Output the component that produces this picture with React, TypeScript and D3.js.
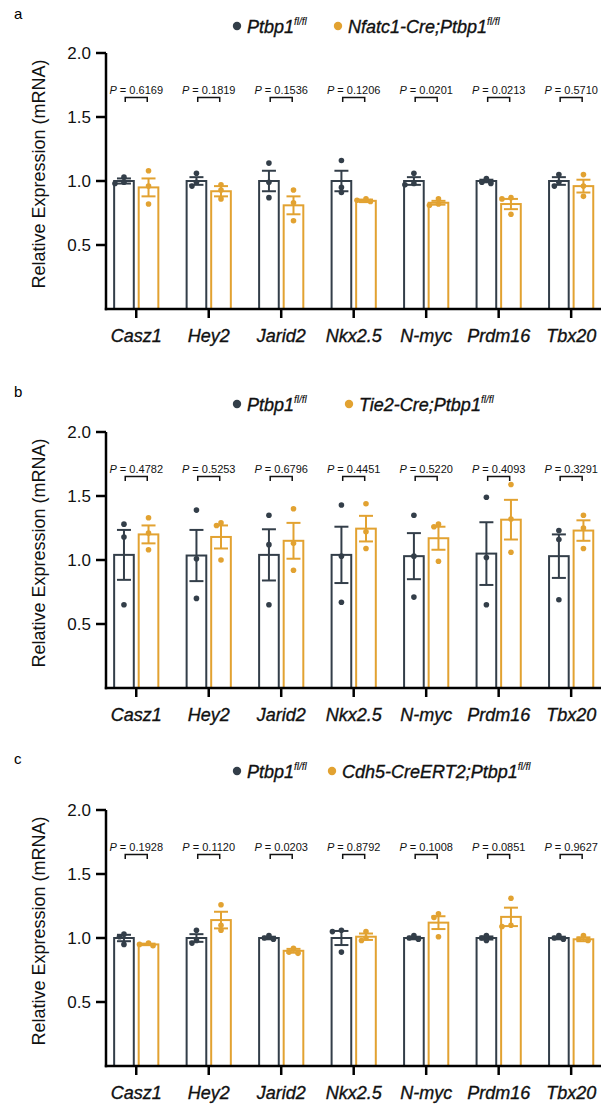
import React from 'react';
import * as d3 from 'd3';

// genes on the x axis
const genes = ['Casz1', 'Hey2', 'Jarid2', 'Nkx2.5', 'N-myc', 'Prdm16', 'Tbx20'];
const yTicks = [0.5, 1.0, 1.5, 2.0];
const controlLabel = 'Ptbp1';

// panel a : Nfatc1-Cre
const aMutant = 'Nfatc1-Cre;Ptbp1';
const aCtrlMean = [1.0, 1.0, 1.0, 1.0, 1.0, 1.0, 1.0];
const aCtrlSem = [0.02, 0.03, 0.08, 0.08, 0.03, 0.01, 0.03];
const aCtrlPts = [[1.03, 0.98, 0.99], [1.06, 0.99, 0.96], [1.14, 0.99, 0.87], [1.16, 0.95, 0.91], [1.06, 0.98, 0.97], [1.02, 0.99, 0.98], [1.05, 0.99, 0.96]];
const aKoMean = [0.95, 0.92, 0.81, 0.845, 0.83, 0.82, 0.96];
const aKoSem = [0.07, 0.04, 0.07, 0.01, 0.015, 0.04, 0.05];
const aKoPts = [[1.08, 0.96, 0.82], [0.97, 0.93, 0.86], [0.93, 0.83, 0.69], [0.86, 0.85, 0.84], [0.86, 0.82, 0.81], [0.87, 0.86, 0.74], [1.05, 0.96, 0.88]];
const aP = ['0.6169', '0.1819', '0.1536', '0.1206', '0.0201', '0.0213', '0.5710'];

// panel b : Tie2-Cre
const bMutant = 'Tie2-Cre;Ptbp1';
const bCtrlMean = [1.04, 1.035, 1.04, 1.04, 1.03, 1.05, 1.03];
const bCtrlSem = [0.195, 0.2, 0.2, 0.22, 0.18, 0.245, 0.17];
const bCtrlPts = [[1.28, 1.18, 0.65], [1.39, 1.01, 0.70], [1.35, 1.12, 0.65], [1.43, 1.03, 0.67], [1.35, 1.03, 0.71], [1.49, 1.02, 0.65], [1.23, 1.16, 0.69]];
const bKoMean = [1.2, 1.18, 1.15, 1.245, 1.17, 1.315, 1.23];
const bKoSem = [0.07, 0.09, 0.14, 0.1, 0.09, 0.155, 0.08];
const bKoPts = [[1.33, 1.21, 1.08], [1.29, 1.27, 1.0], [1.40, 1.13, 0.92], [1.44, 1.22, 1.09], [1.28, 1.26, 0.99], [1.59, 1.32, 1.06], [1.35, 1.25, 1.09]];
const bP = ['0.4782', '0.5253', '0.6796', '0.4451', '0.5220', '0.4093', '0.3291'];

// panel c : Cdh5-CreERT2
const cMutant = 'Cdh5-CreERT2;Ptbp1';
const cCtrlMean = [1.0, 1.0, 1.0, 1.0, 1.0, 1.0, 1.0];
const cCtrlSem = [0.025, 0.03, 0.01, 0.055, 0.01, 0.012, 0.01];
const cCtrlPts = [[1.03, 1.01, 0.95], [1.06, 0.98, 0.96], [1.02, 1.0, 0.99], [1.06, 1.05, 0.89], [1.02, 1.0, 0.99], [1.02, 1.0, 0.98], [1.02, 1.0, 0.99]];
const cKoMean = [0.95, 1.14, 0.9, 1.01, 1.12, 1.165, 0.99];
const cKoSem = [0.006, 0.065, 0.015, 0.025, 0.05, 0.072, 0.015];
const cKoPts = [[0.96, 0.95, 0.94], [1.26, 1.10, 1.06], [0.92, 0.89, 0.88], [1.05, 1.0, 0.98], [1.19, 1.16, 1.01], [1.31, 1.10, 1.09], [1.02, 0.99, 0.98]];
const cP = ['0.1928', '0.1120', '0.0203', '0.8792', '0.1008', '0.0851', '0.9627'];

const DARK = '#333e49';
const GOLD = '#e2a231';
const FONT = '"Liberation Sans", Arial, Helvetica, sans-serif';

const panels = [
  { letter: 'a', mutant: aMutant, ctrlMean: aCtrlMean, ctrlSem: aCtrlSem, ctrlPts: aCtrlPts, koMean: aKoMean, koSem: aKoSem, koPts: aKoPts, p: aP },
  { letter: 'b', mutant: bMutant, ctrlMean: bCtrlMean, ctrlSem: bCtrlSem, ctrlPts: bCtrlPts, koMean: bKoMean, koSem: bKoSem, koPts: bKoPts, p: bP },
  { letter: 'c', mutant: cMutant, ctrlMean: cCtrlMean, ctrlSem: cCtrlSem, ctrlPts: cCtrlPts, koMean: cKoMean, koSem: cKoSem, koPts: cKoPts, p: cP },
];

// layout per panel
const plotTops = [0, 379, 757];
const headTops = [0, 378, 745];
const legendKoX = [338, 349, 332];

// spread overlapping dots sideways, like a scatter column
function swarm(ys: number[], r: number) {
  const placed: { x: number; y: number }[] = [];
  const order = ys.map((v, i) => i).sort((a, b) => ys[a] - ys[b]);
  const out: number[] = new Array(ys.length).fill(0);
  order.forEach(i => {
    const tries = [0, -4.5, 4.5, -9, 9];
    let dx = 0;
    for (const t of tries) {
      if (placed.every(p => Math.hypot(p.x - t, p.y - ys[i]) >= 2 * r - 0.5)) { dx = t; break; }
    }
    placed.push({ x: dx, y: ys[i] });
    out[i] = dx;
  });
  return out;
}

function Panel({ d, i }: { d: any; i: number }) {
  const top = plotTops[i];
  const head = headTops[i];
  const y = d3.scaleLinear().domain([0, 2]).range([top + 309, top + 53]);
  const x = d3.scaleBand().domain(genes).range([100, 607.4]);
  const inner = d3.scaleBand().domain(['ctrl', 'ko']).range([-22.1, 22.1]).paddingInner(0.2);
  const bw = inner.bandwidth();
  const cx = (g: string) => (x(g) as number) + x.bandwidth() / 2;
  const groups = [
    { key: 'ctrl', color: DARK, mean: d.ctrlMean, sem: d.ctrlSem, pts: d.ctrlPts },
    { key: 'ko', color: GOLD, mean: d.koMean, sem: d.koSem, pts: d.koPts },
  ];
  const r = 2.8;
  const capW = 14;
  // the source text is a little heavier than plain regular
  const heavy = { stroke: '#111', strokeWidth: 0.35 };

  return (
    <g>
      <text x={14} y={head + 19} fontSize={15} fontFamily={FONT}>{d.letter}</text>

      {/* legend */}
      <circle cx={237} cy={head + 26} r={4.2} fill={DARK} />
      <text x={247} y={head + 33} fontSize={18} fontStyle="italic" fontFamily={FONT} fill="#111" {...heavy}>
        {controlLabel}<tspan fontSize={10} dy={-8} strokeWidth={0.15}>fl/fl</tspan>
      </text>
      <circle cx={legendKoX[i]} cy={head + 26} r={4.2} fill={GOLD} />
      <text x={legendKoX[i] + 10} y={head + 33} fontSize={18} fontStyle="italic" fontFamily={FONT} fill="#111" {...heavy}>
        {d.mutant}<tspan fontSize={10} dy={-8} strokeWidth={0.15}>fl/fl</tspan>
      </text>

      {/* bars, error bars, dots */}
      {genes.map((g, gi) => (
        <g key={g}>
          {groups.map(s => {
            const x0 = cx(g) + (inner(s.key) as number);
            const mx = x0 + bw / 2;
            const m = s.mean[gi];
            const e = s.sem[gi];
            const ys = s.pts[gi].map((v: number) => y(v));
            const offs = swarm(ys, r);
            return (
              <g key={s.key}>
                <rect x={x0} y={y(m)} width={bw} height={y(0) - y(m)} fill="#fff" stroke={s.color} strokeWidth={2} />
                <line x1={mx} x2={mx} y1={y(m - e)} y2={y(m + e)} stroke={s.color} strokeWidth={2} />
                <line x1={mx - capW / 2} x2={mx + capW / 2} y1={y(m + e)} y2={y(m + e)} stroke={s.color} strokeWidth={2} />
                <line x1={mx - capW / 2} x2={mx + capW / 2} y1={y(m - e)} y2={y(m - e)} stroke={s.color} strokeWidth={2} />
                {ys.map((yy: number, k: number) => (
                  <circle key={k} cx={mx + offs[k]} cy={yy} r={r} fill={s.color} />
                ))}
              </g>
            );
          })}
          {/* p-value bracket */}
          <text x={cx(g)} y={y(2) + 41} textAnchor="middle" fontSize={11} fontFamily={FONT} fill="#111">
            <tspan fontStyle="italic">P</tspan> = {d.p[gi]}
          </text>
          <path
            d={`M${cx(g) - 11},${y(2) + 49} V${y(2) + 44.5} H${cx(g) + 11} V${y(2) + 49}`}
            fill="none" stroke="#111" strokeWidth={1.5}
          />
        </g>
      ))}

      {/* y axis */}
      <line x1={106} x2={106} y1={y(2)} y2={y(0) + 1.2} stroke="#000" strokeWidth={2.5} />
      {yTicks.map(t => (
        <g key={t}>
          <line x1={96} x2={106} y1={y(t)} y2={y(t)} stroke="#000" strokeWidth={2.5} />
          <text x={91} y={y(t)} dy="0.35em" textAnchor="end" fontSize={17} fontFamily={FONT} fill="#111">
            {d3.format('.1f')(t)}
          </text>
        </g>
      ))}
      <text transform={`translate(45,${top + 174}) rotate(-90)`} textAnchor="middle" fontSize={18} fontFamily={FONT} fill="#111">
        Relative Expression (mRNA)
      </text>

      {/* x axis */}
      <line x1={104.8} x2={601} y1={y(0)} y2={y(0)} stroke="#000" strokeWidth={2.5} />
      {genes.map(g => (
        <g key={g}>
          <line x1={cx(g)} x2={cx(g)} y1={y(0)} y2={y(0) + 9} stroke="#000" strokeWidth={2.5} />
          <text x={cx(g)} y={y(0) + 33} textAnchor="middle" fontSize={18} fontStyle="italic" fontFamily={FONT} fill="#111" {...heavy}>
            {g}
          </text>
        </g>
      ))}
    </g>
  );
}

export default function App() {
  return (
    <svg width={601} height={1104} style={{ position: 'absolute', left: 0, top: 0, background: '#fff' }}>
      {panels.map((d, i) => (
        <Panel key={d.letter} d={d} i={i} />
      ))}
    </svg>
  );
}
